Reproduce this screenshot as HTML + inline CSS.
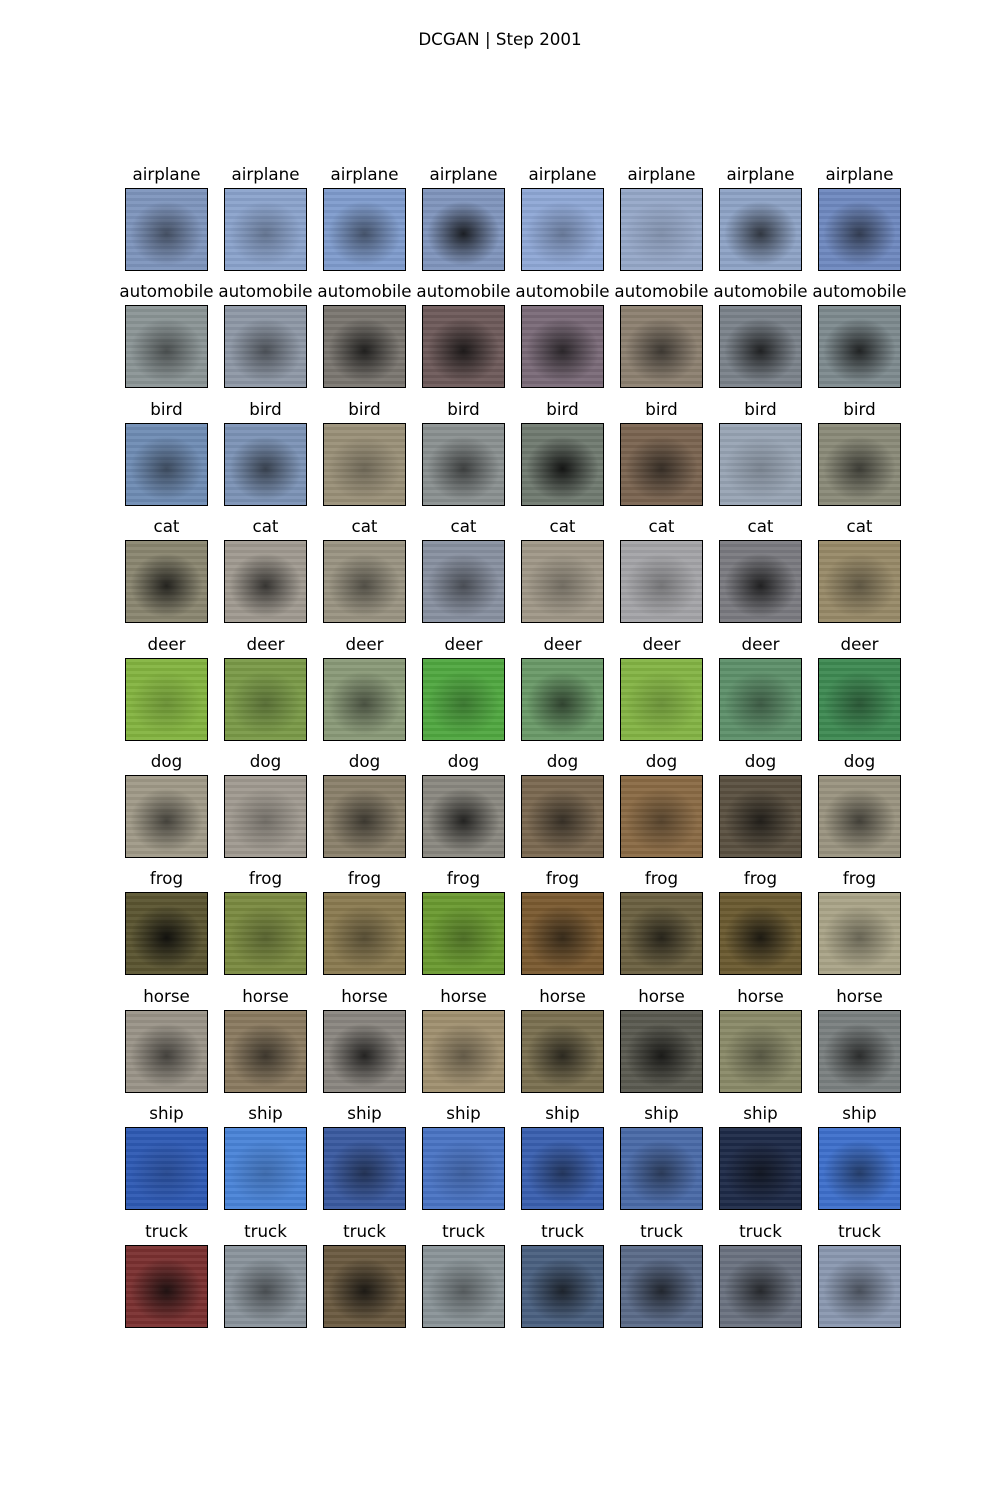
<!DOCTYPE html>
<html><head><meta charset="utf-8"><style>
body{margin:0;background:#fff;width:1000px;height:1500px;position:relative;font-family:"Liberation Sans","DejaVu Sans",sans-serif;overflow:hidden}
#title{position:absolute;top:29px;left:0;width:1000px;text-align:center;font-family:"DejaVu Sans",sans-serif;font-size:16.7px;color:#000}
.lbl{position:absolute;width:110px;text-align:center;font-family:"DejaVu Sans",sans-serif;font-size:16.7px;color:#000;line-height:20px}
.img{position:absolute;width:81px;height:81px;border:1px solid #000}
</style></head><body>
<div id="title">DCGAN | Step 2001</div>
<div id="grid"></div>
<script>
const classes=["airplane","automobile","bird","cat","deer","dog","frog","horse","ship","truck"];
// base colors per sample (row = class)
const baseColors=[
["#7e95bd","#8ba3cc","#7f9ccd","#8095bd","#8fa8d6","#96a8c8","#8ea3c6","#6f89c0"],
["#8b9596","#8e98a6","#7a7670","#6e5a5a","#7a6a78","#8c8070","#7a828a","#7d8a8e"],
["#6f8cb4","#7c93b6","#9a9078","#8a9090","#707a70","#7a6450","#98a4b4","#8a8a78"],
["#8a8670","#a09a90","#9a9482","#8890a0","#a09888","#a4a4a8","#7a7a80","#988a68"],
["#84b440","#7a9a48","#8a9a78","#50a840","#6a9a68","#84b444","#5e906a","#3e8a52"],
["#a09a88","#a09a90","#8a806a","#8a8880","#7a6850","#8a6a44","#5a5040","#9a9480"],
["#5a5430","#7a8a40","#8a7a50","#6a9a30","#7a5a30","#6a6040","#6a5a30","#aaa488"],
["#9a9488","#8a7a60","#8a8680","#a09070","#7a7050","#5a5a50","#8a8a68","#7a8080"],
["#2e5ab4","#4a84d8","#3a5aa0","#4a74c4","#3a60b0","#4a6aa8","#1e2a48","#3e70cc"],
["#7a3030","#8a949c","#6a5a40","#8a9498","#4a6080","#5a6a88","#6a7280","#8a98b0"]];
// dark blob strength per sample (0..1)
const blobStrength=[
[0.5,0.3,0.5,0.85,0.3,0.15,0.7,0.6],
[0.5,0.5,0.8,0.8,0.7,0.6,0.8,0.8],
[0.5,0.6,0.3,0.6,0.9,0.6,0.2,0.6],
[0.8,0.7,0.5,0.5,0.3,0.3,0.8,0.4],
[0.2,0.3,0.5,0.3,0.6,0.2,0.4,0.4],
[0.6,0.3,0.6,0.8,0.6,0.4,0.7,0.6],
[0.9,0.3,0.4,0.3,0.6,0.7,0.8,0.4],
[0.6,0.6,0.8,0.4,0.7,0.8,0.4,0.7],
[0.2,0.2,0.5,0.2,0.5,0.5,0.6,0.5],
[0.8,0.5,0.8,0.4,0.7,0.7,0.7,0.5]];
const colX=c=>125+c*99;
const rowY=r=>188+r*117.4;
const grid=document.getElementById('grid');
classes.forEach((cls,r)=>{
  for(let c=0;c<8;c++){
    const l=document.createElement('div');
    l.className='lbl';
    
    
    l.style.left=(colX(c)+41.5-55)+'px';
    l.style.top=(rowY(r)-24)+'px';
    l.textContent=cls;
    grid.appendChild(l);
    const d=document.createElement('div');
    d.className='img';
    
    
    d.style.left=colX(c)+'px';
    d.style.top=Math.round(rowY(r))+'px';
    const s=blobStrength[r][c];
    d.style.background=`radial-gradient(ellipse 45% 40% at 50% 55%, rgba(10,10,10,${s}) 0%, rgba(10,10,10,${s*0.5}) 50%, rgba(10,10,10,0) 100%), repeating-linear-gradient(0deg, rgba(255,255,255,0.05) 0 3px, rgba(0,0,0,0.05) 3px 6px), ${baseColors[r][c]}`;
    grid.appendChild(d);
  }
});
</script>
</body></html>
